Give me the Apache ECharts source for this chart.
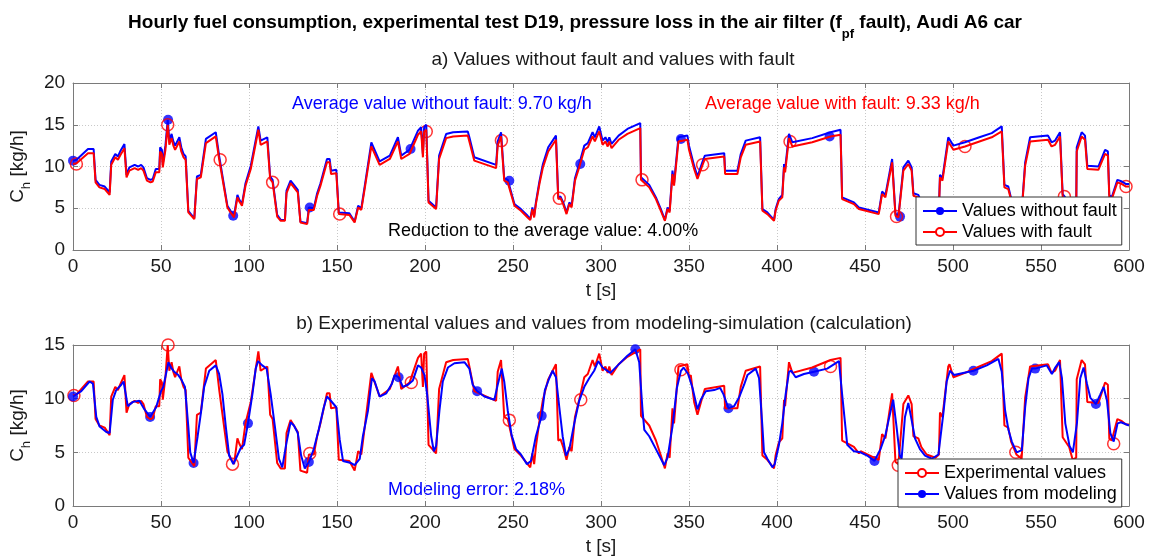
<!DOCTYPE html>
<html><head><meta charset="utf-8">
<script src="https://cdn.jsdelivr.net/npm/echarts@6/dist/echarts.min.js"></script>
<style>html,body{margin:0;padding:0;background:#fff}#c{width:1150px;height:557px}</style>
</head><body><div id="c"></div>
<script>
// time [s], fuel consumption [kg/h] - values with fault (also experimental values in b)
const withFault = [[0,10.3],[2,10.4],[8.5,11.6],[11.7,11.6],[12.8,8.1],[15,7.5],[18,7.3],[20.8,6.6],[21.7,10.2],[24,11.1],[25.5,10.8],[27,11.4],[29.2,12.2],[30.4,8.7],[32,9.5],[35,9.8],[37,9.6],[38.7,9.8],[40,9.5],[42,8.3],[44,8.1],[45.3,8.2],[47,9.3],[49,9.3],[49.5,11.8],[50.5,11.5],[51,9.9],[52.5,12.0],[53.8,15.0],[54.7,12.6],[56,13.4],[57,12.5],[58,12.0],[60.4,13.0],[61.5,11.8],[62.8,11.1],[64,10.8],[65.5,4.5],[68.9,3.7],[70.4,8.5],[72.6,8.7],[75.5,12.8],[81.1,13.6],[83,10.9],[84,10.8],[87.7,5.1],[89.5,4.5],[91.5,3.9],[93.4,6.3],[94.5,5.8],[96,5.3],[98,7.7],[101,9.7],[105.3,14.4],[106.6,12.6],[110.4,13.0],[112,8.5],[113.4,8.1],[116,4.0],[118,3.5],[120.4,3.5],[121.3,6.8],[123.6,8.0],[125.5,7.5],[127.7,6.9],[128.5,6.9],[129.2,3.3],[133,3.1],[134,4.8],[136.8,4.8],[138.7,6.5],[140.6,7.7],[144.3,10.5],[145.8,10.5],[146.6,9.1],[149.6,9.2],[151,4.3],[157,4.2],[160,3.3],[162,5.1],[163.8,4.8],[166,7.7],[169.5,12.4],[170.4,12.4],[174.2,10.2],[180,10.9],[184.6,13.0],[186.5,10.9],[191.2,11.5],[196,13.8],[197.8,14.2],[198.8,11.1],[199.5,14.2],[200.7,14.4],[202,5.7],[206.3,4.9],[208,10.9],[212,13.4],[216,13.6],[224.3,13.7],[225.2,13.0],[228,10.7],[240.4,9.8],[241.3,12.5],[243.2,13.6],[245,8.3],[247,8.1],[250.8,5.3],[254.5,4.7],[258.3,3.9],[259.8,3.6],[261,4.9],[262,3.9],[263,5.5],[265,7.9],[267,9.9],[270,11.8],[274.4,13.2],[275.7,6.1],[277,6.2],[278.5,5.5],[280.4,4.3],[282,5.5],[283.3,5.1],[285.2,8.3],[287.6,9.9],[290.5,12.0],[292.5,12.3],[295.2,13.6],[296.5,13.0],[299,14.2],[300.9,12.6],[302.5,13.0],[303.8,12.4],[304.7,13.0],[306,12.2],[310,13.2],[315,13.9],[322.3,14.6],[322.7,8.4],[327.4,7.5],[331.2,6.1],[334,4.7],[336.3,3.5],[337.8,4.9],[339,4.5],[340.6,9.1],[341.5,7.7],[344,13.0],[349.1,13.2],[350,12.0],[351,12.2],[352.9,9.7],[354.8,8.5],[357.7,10.2],[359,10.9],[370,11.2],[370.5,9.1],[377.5,9.1],[379.4,11.1],[382.2,12.6],[390.4,13.0],[391.7,4.7],[394.5,4.3],[398.3,3.5],[399.2,4.7],[401,5.9],[403,6.3],[404,9.9],[404.6,9.3],[406.8,13.4],[408.7,12.4],[420,12.9],[430.4,13.6],[436.1,13.8],[437,6.1],[443.7,5.5],[446.5,4.9],[447.5,5.1],[457.8,4.3],[459.7,6.7],[461.6,6.3],[465.4,10.5],[466.3,10.4],[467.3,4.1],[469,3.9],[471.8,9.5],[474.6,10.3],[476.5,9.5],[477.5,6.5],[480.3,6.3],[482,5.5],[485,4.8],[490,4.5],[492,4.8],[492.6,8.7],[494,8.3],[497.3,13.0],[498,13.2],[500.2,12.0],[506.8,12.4],[515,13.0],[522,13.5],[527.7,14.2],[529.2,7.5],[531.4,7.3],[533,6.0],[536,4.8],[539,4.4],[541,10.1],[543.8,13.0],[554,13.2],[556,12.4],[558,12.6],[560.8,13.6],[562.3,6.4],[563.3,6.4],[566,5.5],[568,4.3],[570,4.5],[570.3,11.8],[573.1,13.6],[575,13.2],[576.3,9.7],[582.6,9.6],[586.4,11.5],[588,11.3],[588.8,6.3],[590.2,6.1],[593.4,8.1],[596,7.9],[598.3,7.6],[600,7.6]];

// values without fault
const withoutFault = [[0,10.7],[2,10.8],[8.5,12.1],[11.7,12.1],[12.8,8.4],[15,7.8],[18,7.6],[20.8,6.9],[21.7,10.6],[24,11.5],[25.5,11.2],[27,11.9],[29.2,12.7],[30.4,9.0],[32,9.9],[35,10.2],[37,10.0],[38.7,10.2],[40,9.9],[42,8.6],[44,8.4],[45.3,8.5],[47,9.7],[49,9.7],[49.5,12.3],[50.5,12.0],[51,10.3],[52.5,12.5],[53.8,15.6],[54.7,13.1],[56,13.9],[57,13.0],[58,12.5],[60.4,13.5],[61.5,12.3],[62.8,11.5],[64,11.2],[65.5,4.7],[68.9,3.8],[70.4,8.8],[72.6,9.0],[75.5,13.3],[81.1,14.1],[83,11.3],[84,11.2],[87.7,5.3],[89.5,4.7],[91.5,4.1],[93.4,6.6],[94.5,6.0],[96,5.5],[98,8.0],[101,10.1],[105.3,14.8],[106.6,13.1],[110.4,13.5],[112,8.8],[113.4,8.4],[116,4.2],[118,3.6],[120.4,3.6],[121.3,7.1],[123.6,8.3],[125.5,7.8],[127.7,7.2],[128.5,7.2],[129.2,3.4],[133,3.2],[134,5.1],[136.8,5.0],[138.7,6.8],[140.6,8.0],[144.3,10.9],[145.8,10.9],[146.6,9.5],[149.6,9.6],[151,4.5],[157,4.4],[160,3.4],[162,5.3],[163.8,5.0],[166,8.0],[169.5,12.9],[170.4,12.9],[174.2,10.6],[180,11.3],[184.6,13.5],[186.5,11.3],[191.2,12.0],[196,14.3],[197.8,14.7],[198.8,11.5],[199.5,14.7],[200.7,15.0],[202,5.9],[206.3,5.1],[208,11.3],[212,13.9],[216,14.1],[224.3,14.2],[225.2,13.5],[228,11.1],[240.4,10.2],[241.3,13.0],[243.2,14.1],[245,8.6],[247,8.4],[250.8,5.5],[254.5,4.9],[258.3,4.1],[259.8,3.7],[261,5.1],[262,4.1],[263,5.7],[265,8.2],[267,10.3],[270,12.3],[274.4,13.7],[275.7,6.3],[277,6.4],[278.5,5.7],[280.4,4.5],[282,5.7],[283.3,5.3],[285.2,8.6],[287.6,10.3],[290.5,12.5],[292.5,12.8],[295.2,14.1],[296.5,13.5],[299,14.8],[300.9,13.1],[302.5,13.5],[303.8,12.9],[304.7,13.5],[306,12.7],[310,13.7],[315,14.5],[322.3,15.2],[322.7,8.7],[327.4,7.8],[331.2,6.3],[334,4.9],[336.3,3.6],[337.8,5.1],[339,4.7],[340.6,9.5],[341.5,8.0],[344,13.5],[349.1,13.7],[350,12.5],[351,12.7],[352.9,10.1],[354.8,8.8],[357.7,10.6],[359,11.3],[370,11.6],[370.5,9.5],[377.5,9.5],[379.4,11.5],[382.2,13.1],[390.4,13.5],[391.7,4.9],[394.5,4.5],[398.3,3.6],[399.2,4.9],[401,6.1],[403,6.6],[404,10.3],[404.6,9.7],[406.8,13.9],[408.7,12.9],[420,13.4],[430.4,14.1],[436.1,14.4],[437,6.3],[443.7,5.7],[446.5,5.1],[447.5,5.3],[457.8,4.5],[459.7,7.0],[461.6,6.6],[465.4,10.9],[466.3,10.8],[467.3,4.3],[469,4.1],[471.8,9.9],[474.6,10.7],[476.5,9.9],[477.5,6.8],[480.3,6.6],[482,5.7],[485,5.0],[490,4.7],[492,5.0],[492.6,9.0],[494,8.6],[497.3,13.5],[498,13.7],[500.2,12.5],[506.8,12.9],[515,13.5],[522,14.0],[527.7,14.8],[529.2,7.8],[531.4,7.6],[533,6.2],[536,5.0],[539,4.6],[541,10.5],[543.8,13.5],[554,13.7],[556,12.9],[558,13.1],[560.8,14.1],[562.3,6.7],[563.3,6.7],[566,5.7],[568,4.5],[570,4.7],[570.3,12.3],[573.1,14.1],[575,13.7],[576.3,10.1],[582.6,10.0],[586.4,12.0],[588,11.8],[588.8,6.6],[590.2,6.3],[593.4,8.4],[596,8.2],[598.3,7.9],[600,7.9]];

// values from modeling-simulation
const modeled = [[0,10.2],[4.7,10.7],[9.4,11.6],[11.3,11.4],[13.2,8.3],[15.1,7.4],[18.9,6.9],[20.8,6.8],[22.6,9.9],[24.5,10.8],[27.4,11.3],[28.7,11.6],[31.1,9.3],[34,9.7],[37.7,9.8],[40.6,9.0],[43.8,8.3],[47.2,9.2],[50,10.7],[51.3,11.1],[54.2,13.4],[55.7,12.9],[57.5,12.5],[59.8,12.2],[61.5,11.8],[63.6,11.1],[65.5,7.4],[66.6,5.0],[68.5,4.0],[70.8,6.5],[72.6,8.6],[74.5,11.1],[77.4,12.6],[81.1,13.1],[83,12.3],[84.9,10.4],[86.8,7.4],[88.7,4.7],[91.1,3.9],[92.5,4.4],[95.3,5.4],[97.2,5.7],[99.4,7.7],[101.9,10.4],[103.8,12.8],[105.1,13.5],[107.5,13.1],[110,12.8],[112.3,10.4],[114.7,7.4],[117,4.4],[118.9,3.6],[121.3,5.9],[123.6,7.8],[125.5,7.5],[127.7,6.8],[129.6,4.7],[131.7,3.5],[134,4.1],[136.8,5.3],[139.6,7.1],[142.5,9.2],[144.3,10.2],[146,9.9],[149.6,9.2],[151.5,6.2],[153.4,4.2],[158,4.0],[160,3.8],[162.9,4.4],[164.7,6.5],[167.6,8.9],[169.8,11.9],[171.4,11.6],[174.2,10.2],[178,10.5],[181.2,11.4],[182.7,12.2],[185,12.0],[187.4,11.1],[190.3,11.3],[193.1,11.7],[196,13.1],[197.8,12.9],[199.7,12.2],[201.2,10.4],[203.5,6.5],[205,5.1],[206.3,5.6],[208.2,8.9],[210.1,11.6],[213,12.9],[216.7,13.3],[222.4,13.4],[225.2,12.8],[227.1,11.3],[229.6,10.7],[233.7,10.2],[239.4,9.9],[241.3,11.3],[243.6,12.8],[245,11.6],[247,8.9],[249.2,6.6],[251.7,5.3],[254.5,4.8],[257.9,3.9],[260.2,4.2],[263,6.5],[266.3,8.4],[268.1,10.8],[270.6,11.9],[272.5,12.6],[274.4,12.0],[276.3,9.2],[278.2,6.5],[280.1,4.7],[282,5.3],[284.8,7.7],[287.6,9.8],[290.5,11.1],[293.3,11.9],[296.1,12.6],[298.4,13.5],[300.9,12.9],[302,12.8],[305.3,12.4],[309.5,13.1],[315,14.0],[319.5,14.6],[321.7,13.4],[323.6,8.9],[324.6,7.1],[327.4,6.5],[331.2,5.3],[335.9,3.8],[337.8,4.5],[340.6,7.4],[343.1,11.0],[345.4,12.6],[346.9,12.9],[349.5,12.3],[352,11.0],[354.8,9.0],[356.7,9.9],[359.5,10.7],[364.3,10.8],[367.7,11.0],[369.6,10.4],[372.4,9.1],[375.6,9.3],[378.4,10.1],[381.3,11.3],[383.2,12.2],[387.9,12.8],[389.8,11.9],[391.7,7.4],[392.6,5.0],[394.5,4.4],[397.4,3.6],[398.7,3.9],[401.1,5.7],[403,7.7],[404.9,10.4],[406.8,12.5],[408.1,12.6],[410.6,12.0],[415.3,12.3],[421,12.5],[428.5,12.8],[432.3,13.2],[435.2,13.5],[437,10.4],[439.9,5.7],[443.7,5.1],[447.4,5.0],[451.2,4.7],[455.4,4.2],[458.8,5.3],[461.6,6.6],[463.8,8.3],[466,9.9],[467.9,7.4],[469.8,4.7],[470.8,4.4],[472.7,8.3],[474.6,9.6],[476.5,8.0],[478.4,6.3],[481.2,5.3],[484.1,4.7],[488,4.4],[491.7,4.8],[494.5,8.6],[496.4,11.6],[498.3,12.6],[500.6,12.2],[511.6,12.6],[519.2,13.1],[525.8,13.7],[527.7,12.5],[529.6,8.9],[531.5,7.1],[533.4,6.0],[536.2,5.0],[539.1,5.2],[541,9.2],[542.9,11.9],[544.8,12.8],[546.7,12.8],[553.3,13.1],[556.2,12.3],[558.1,12.9],[560.3,13.4],[561.9,11.9],[563.8,7.7],[566.2,5.6],[568.1,5.0],[570.4,7.7],[572.3,11.9],[574.2,12.9],[576.1,11.4],[578,10.1],[581.2,9.5],[583.7,10.4],[585.6,11.1],[587.5,9.8],[589.4,6.8],[591.3,6.0],[593.5,7.7],[595.4,7.8],[600,7.5]];

// marker positions (t, value) as plotted
const markWithoutFault = [[0,10.7],[54,15.6],[91,4.1],[134.5,5.1],[191.8,12.1],[247.9,8.3],[288.2,10.3],[345.4,13.3],[429.9,13.6],[469.9,4.0]];
const markWithFault = [[1.9,10.3],[53.8,15.0],[83.6,10.8],[113.4,8.1],[151.5,4.3],[200.7,14.2],[243.4,13.1],[276.3,6.2],[323.3,8.4],[357.7,10.2],[407.4,13.0],[467.9,4.0],[506.8,12.4],[563.3,6.4],[598.3,7.6]];
const markModeled = [[0,10.2],[43.8,8.3],[68.5,4.0],[99.4,7.7],[134,4.1],[185,12.0],[229.6,10.7],[266.3,8.4],[319.5,14.6],[372.4,9.1],[421,12.5],[455.4,4.2],[511.6,12.6],[546.7,12.8],[581.2,9.5]];
const markExperimental = [[0.5,10.3],[54,15.0],[90.6,3.9],[134.5,4.9],[192.2,11.5],[247.9,8.0],[288.5,9.9],[345.4,12.7],[430.4,13.0],[468.9,3.8],[535.7,5.0],[591.3,5.8]];

const xTicks = {min: 0, max: 600, interval: 50};
const yTopTicks = {min: 0, max: 20, interval: 5};
const yBotTicks = {min: 0, max: 15, interval: 5};

const FONT = 'Liberation Sans, Arial, Helvetica, sans-serif';
const BLUE = '#0000ff', RED = '#ff0000';
const boxColor = '#7a7a7a', txt = '#1a1a1a';

function xAx(gi, pos, lbl, ticks) {
  return {
    type: 'value', gridIndex: gi, position: pos, min: ticks.min, max: ticks.max, interval: ticks.interval,
    axisLine: {show: true, onZero: false, lineStyle: {color: boxColor, width: 1}},
    axisTick: {show: true, inside: true, length: 5, lineStyle: {color: boxColor}},
    axisLabel: {show: lbl, color: txt, fontSize: 19, fontFamily: FONT, margin: 7},
    splitLine: {show: lbl, lineStyle: {type: [1, 2], color: '#c8c8c8'}},
    name: lbl ? 't [s]' : '', nameLocation: 'middle', nameGap: 31,
    nameTextStyle: {color: txt, fontSize: 19, fontFamily: FONT}
  };
}
function yAx(gi, pos, lbl, ticks) {
  return {
    type: 'value', gridIndex: gi, position: pos, min: ticks.min, max: ticks.max, interval: ticks.interval,
    axisLine: {show: true, onZero: false, lineStyle: {color: boxColor, width: 1}},
    axisTick: {show: true, inside: true, length: 5, lineStyle: {color: boxColor}},
    axisLabel: {show: lbl, color: txt, fontSize: 19, fontFamily: FONT, margin: 8},
    splitLine: {show: lbl, lineStyle: {type: [1, 2], color: '#c8c8c8'}},
    name: lbl ? '{a|C}{s|h}{a| [kg/h]}' : '', nameLocation: 'middle', nameGap: 28, nameRotate: 90,
    nameTextStyle: {color: txt, fontFamily: FONT, rich: {
      a: {fontSize: 19, fontFamily: FONT, color: txt, lineHeight: 20, verticalAlign: 'top'},
      s: {fontSize: 13, fontFamily: FONT, color: txt, lineHeight: 13, padding: [12, 0, 0, 0], verticalAlign: 'top'}
    }}
  };
}

const lineBase = {type: 'line', showSymbol: false, lineStyle: {width: 2}, animation: false, silent: true};
const legendBase = {orient: 'vertical', backgroundColor: '#fff', borderColor: '#333', borderWidth: 1,
  padding: [5, 5, 4, 6], itemGap: 3, itemWidth: 34, itemHeight: 10,
  textStyle: {fontSize: 18, fontFamily: FONT, color: '#000'}};

const option = {
  backgroundColor: '#fff',
  animation: false,
  title: [{
    text: '{b|Hourly fuel consumption, experimental test D19, pressure loss in the air filter (f}{s|pf}{b| fault), Audi A6 car}',
    left: 'center', top: 8,
    textStyle: {rich: {
      b: {fontSize: 19, fontWeight: 'bold', fontFamily: FONT, color: '#000', lineHeight: 22, verticalAlign: 'top'},
      s: {fontSize: 13, fontWeight: 'bold', fontFamily: FONT, color: '#000', lineHeight: 13, padding: [15, 0, 0, 0], verticalAlign: 'top'}
    }}
  }],
  grid: [
    {left: 71, right: 21, top: 83, height: 167, show: false},
    {left: 71, right: 21, top: 345, height: 167, show: false}
  ],
  xAxis: [xAx(0, 'bottom', true, xTicks), xAx(0, 'top', false, xTicks), xAx(1, 'bottom', true, xTicks), xAx(1, 'top', false, xTicks)],
  yAxis: [yAx(0, 'left', true, yTopTicks), yAx(0, 'right', false, yTopTicks), yAx(1, 'left', true, yBotTicks), yAx(1, 'right', false, yBotTicks)],
  legend: [
    Object.assign({}, legendBase, {data: ['Values without fault', 'Values with fault'], left: 916, top: 197}),
    Object.assign({}, legendBase, {data: ['Experimental values', 'Values from modeling'], left: 898, top: 459})
  ],
  graphic: [
    {type: 'text', x: 613, y: 60, style: {text: 'a) Values without fault and values with fault', fill: txt, font: '19px ' + FONT, textAlign: 'center', textVerticalAlign: 'middle'}},
    {type: 'text', x: 604, y: 324, style: {text: 'b) Experimental values and values from modeling-simulation (calculation)', fill: txt, font: '19px ' + FONT, textAlign: 'center', textVerticalAlign: 'middle'}},
    {type: 'text', left: 292, top: 95, style: {text: 'Average value without fault: 9.70 kg/h', fill: BLUE, font: '18px ' + FONT}},
    {type: 'text', left: 705, top: 95, style: {text: 'Average value with fault: 9.33 kg/h', fill: RED, font: '18px ' + FONT}},
    {type: 'text', left: 388, top: 222, style: {text: 'Reduction to the average value: 4.00%', fill: '#000', font: '18px ' + FONT}},
    {type: 'text', left: 388, top: 481, style: {text: 'Modeling error: 2.18%', fill: BLUE, font: '18px ' + FONT}}
  ],
  series: [
    Object.assign({}, lineBase, {name: 'Values without fault', xAxisIndex: 0, yAxisIndex: 0, data: withoutFault,
      symbol: 'circle', symbolSize: 10, itemStyle: {color: BLUE}, lineStyle: {width: 2, color: BLUE}}),
    {type: 'scatter', name: 'Values without fault', xAxisIndex: 0, yAxisIndex: 0, data: markWithoutFault,
      symbol: 'circle', symbolSize: 10, itemStyle: {color: BLUE}, silent: true},
    Object.assign({}, lineBase, {name: 'Values with fault', xAxisIndex: 0, yAxisIndex: 0, data: withFault,
      symbol: 'emptyCircle', symbolSize: 11, itemStyle: {color: RED, borderColor: RED, borderWidth: 1.5}, lineStyle: {width: 2, color: RED}}),
    {type: 'scatter', name: 'Values with fault', xAxisIndex: 0, yAxisIndex: 0, data: markWithFault,
      symbol: 'circle', symbolSize: 12, itemStyle: {color: 'rgba(0,0,0,0)', borderColor: RED, borderWidth: 1.5}, silent: true},

    Object.assign({}, lineBase, {name: 'Experimental values', xAxisIndex: 2, yAxisIndex: 2, data: withFault,
      symbol: 'emptyCircle', symbolSize: 11, itemStyle: {color: RED, borderColor: RED, borderWidth: 1.5}, lineStyle: {width: 2, color: RED}}),
    {type: 'scatter', name: 'Experimental values', xAxisIndex: 2, yAxisIndex: 2, data: markExperimental,
      symbol: 'circle', symbolSize: 12, itemStyle: {color: 'rgba(0,0,0,0)', borderColor: RED, borderWidth: 1.5}, silent: true},
    Object.assign({}, lineBase, {name: 'Values from modeling', xAxisIndex: 2, yAxisIndex: 2, data: modeled,
      symbol: 'circle', symbolSize: 10, itemStyle: {color: BLUE}, lineStyle: {width: 2, color: BLUE}}),
    {type: 'scatter', name: 'Values from modeling', xAxisIndex: 2, yAxisIndex: 2, data: markModeled,
      symbol: 'circle', symbolSize: 10, itemStyle: {color: BLUE}, silent: true}
  ]
};
const chart = echarts.init(document.getElementById('c'), null, {renderer: 'canvas'});
chart.setOption(option);
</script></body></html>
